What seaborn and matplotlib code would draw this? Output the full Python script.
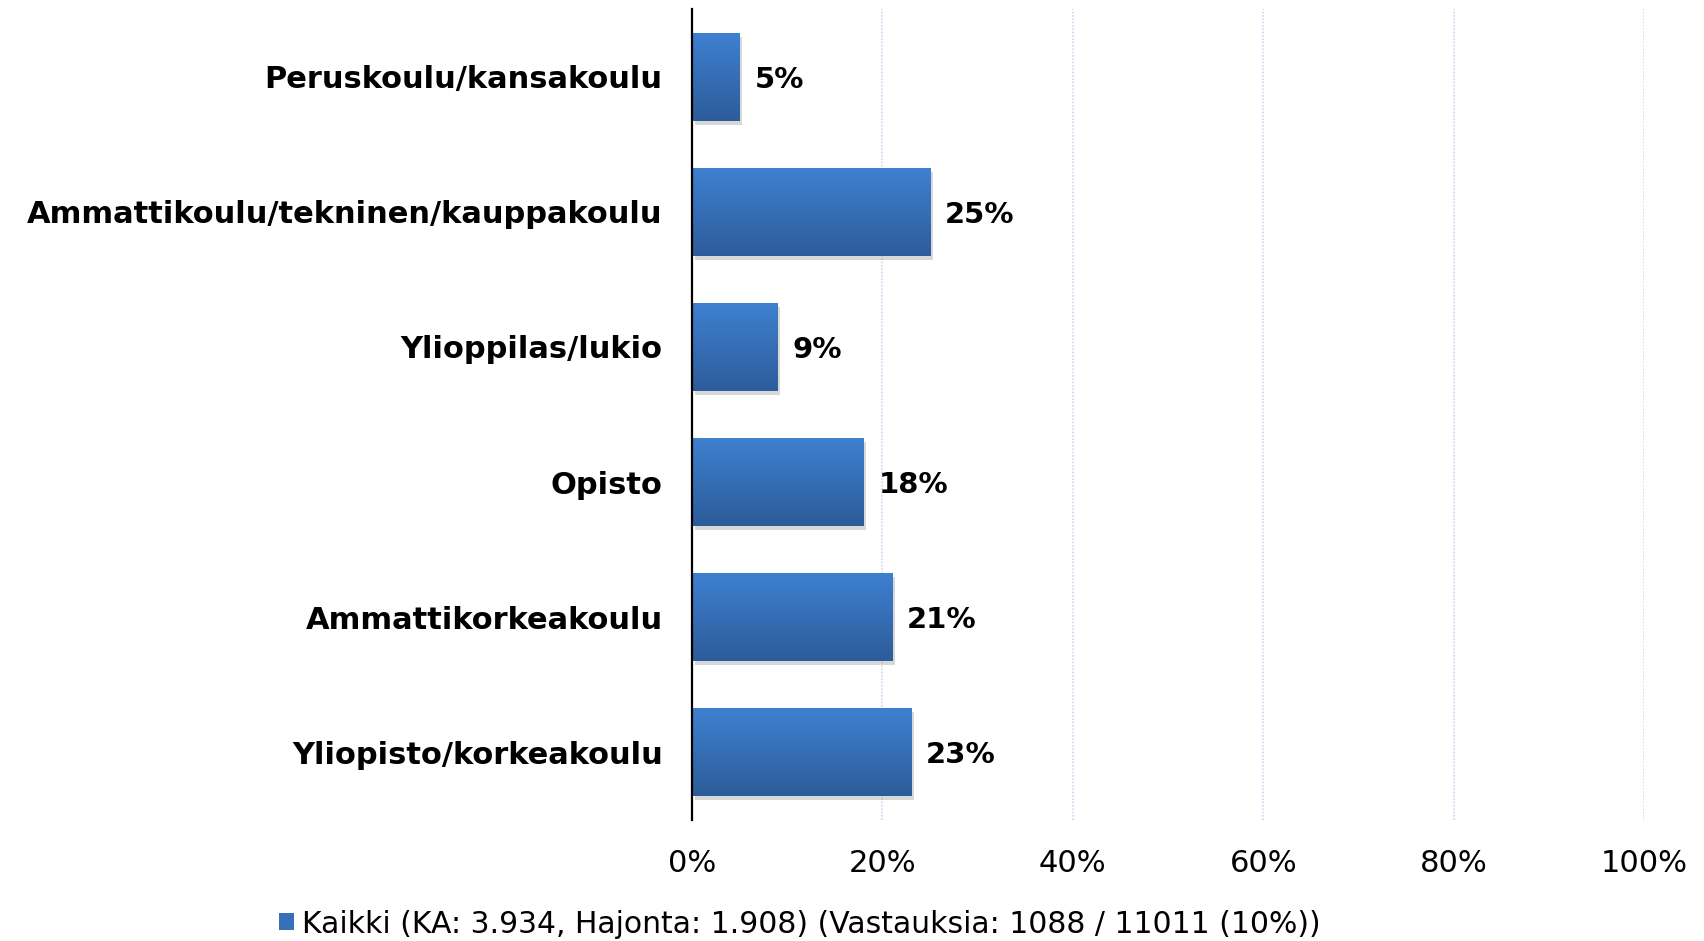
import matplotlib.pyplot as plt
import matplotlib.patheffects as pe
import numpy as np
import pandas as pd
import seaborn as sns
from matplotlib.colors import LinearSegmentedColormap
from matplotlib.patches import Patch

categories = ['Peruskoulu/kansakoulu', 'Ammattikoulu/tekninen/kauppakoulu', 'Ylioppilas/lukio',
              'Opisto', 'Ammattikorkeakoulu', 'Yliopisto/korkeakoulu']
shares = [5, 25, 9, 18, 21, 23]
x_ticks = [0, 20, 40, 60, 80, 100]
series_label = 'Kaikki (KA: 3.934, Hajonta: 1.908) (Vastauksia: 1088 / 11011 (10%))'

sns.set_theme(style='white')
plt.rcParams['font.family'] = ['DejaVu Sans']
plt.rcParams['text.color'] = 'black'
plt.rcParams['xtick.color'] = 'black'
plt.rcParams['ytick.color'] = 'black'

bar_top, bar_bottom = '#3e80d0', '#2d5c9a'
bar_cmap = LinearSegmentedColormap.from_list('bar', [bar_top, bar_bottom])

fig = plt.figure(figsize=(17.04, 9.41), dpi=100)
ax = fig.add_axes([0.406, 0.129, 0.559, 0.861])

df = pd.DataFrame({'category': categories, 'share': shares})
sns.barplot(data=df, x='share', y='category', color='#3670b8', width=0.65,
            orient='h', saturation=1, ax=ax)
ax.set_xlim(0, 100)
ylim = ax.get_ylim()

# gradient fill + soft shadow on each bar
grad = np.linspace(0, 1, 64).reshape(-1, 1)
for patch in ax.patches:
    x0, y0 = patch.get_x(), patch.get_y()
    w, h = patch.get_width(), patch.get_height()
    patch.set_edgecolor('none')
    patch.set_path_effects([pe.SimplePatchShadow(offset=(2, -3), shadow_rgbFace='#808080', alpha=0.3),
                            pe.Normal()])
    im = ax.imshow(grad, cmap=bar_cmap, aspect='auto', extent=[x0, x0 + w, y0 + h, y0],
                   origin='upper', zorder=patch.get_zorder() + 0.1)
    im.set_clip_path(patch)
ax.set_xlim(0, 100)
ax.set_ylim(ylim)

labels = ax.bar_label(ax.containers[0], labels=[f'{v}%' for v in shares], padding=11,
                      fontsize=21, fontweight='bold', color='black')
for t in labels:
    t.set_va('center_baseline')

ax.set_xticks(x_ticks)
ax.set_xticklabels([f'{t}%' for t in x_ticks])
ax.xaxis.grid(True, color='#cbdaef', linestyle=(0, (1, 1)), linewidth=1.2)
ax.set_axisbelow(True)
for side in ['top', 'right', 'bottom']:
    ax.spines[side].set_visible(False)
ax.spines['left'].set_color('black')
ax.spines['left'].set_linewidth(1.6)
ax.spines['left'].set_zorder(5)
ax.tick_params(axis='both', length=0)
ax.tick_params(axis='y', pad=21, labelsize=22)
ax.tick_params(axis='x', pad=21, labelsize=22)
for lbl in ax.get_yticklabels():
    lbl.set_fontweight('bold')
ax.set_xlabel('')
ax.set_ylabel('')

handle = Patch(facecolor='#3670b8', edgecolor='none')
ax.legend(handles=[handle], labels=[series_label], loc='center left',
          bbox_to_anchor=(0.164, 0.018), bbox_transform=fig.transFigure,
          frameon=False, fontsize=21.5, handlelength=0.5, handleheight=0.5,
          handletextpad=0.25, borderpad=0, borderaxespad=0)

fig.savefig('out.png', dpi=100)
